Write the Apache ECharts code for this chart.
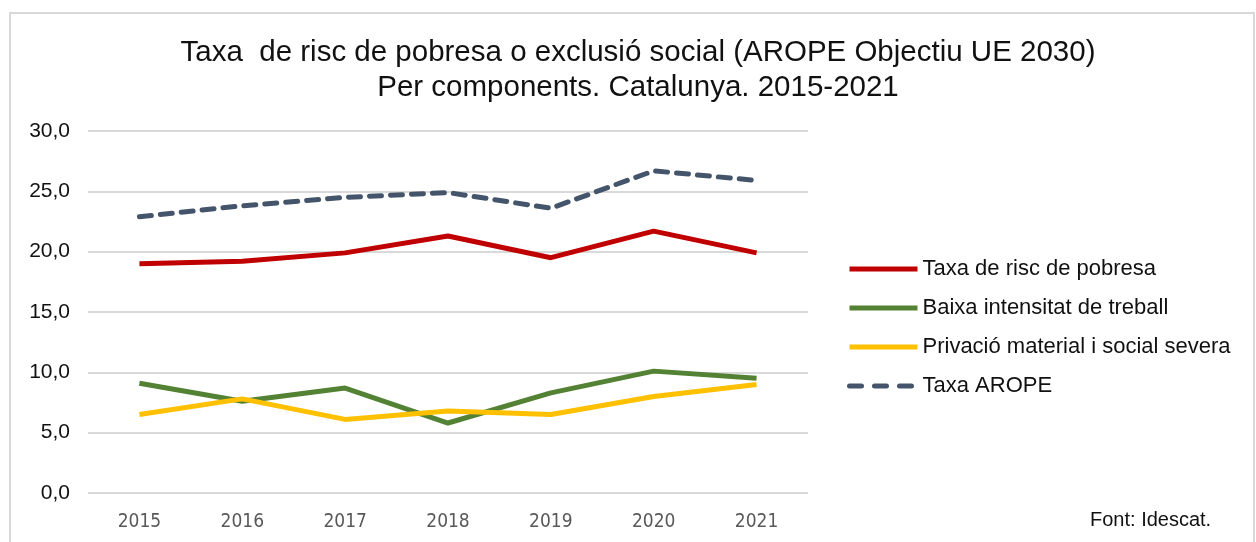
<!DOCTYPE html>
<html>
<head>
<meta charset="utf-8">
<script src="https://cdn.jsdelivr.net/npm/echarts@6/dist/echarts.min.js"></script>
<style>
html, body { margin: 0; padding: 0; background: #fff; }
#main { width: 1256px; height: 542px; }
</style>
</head>
<body>
<div id="main"></div>
<script>
// dades
var anys = ['2015', '2016', '2017', '2018', '2019', '2020', '2021'];
var taxaRisc = [19.0, 19.2, 19.9, 21.3, 19.5, 21.7, 19.9];
var baixaIntensitat = [9.1, 7.6, 8.7, 5.8, 8.3, 10.1, 9.5];
var privacio = [6.5, 7.8, 6.1, 6.8, 6.5, 8.0, 9.0];
var taxaArope = [22.9, 23.8, 24.5, 24.9, 23.6, 26.7, 25.9];

var myChart = echarts.init(document.getElementById('main'));

myChart.setOption({
    animation: false,
    backgroundColor: '#fff',
    title: {
        text: 'Taxa  de risc de pobresa o exclusió social (AROPE Objectiu UE 2030)\nPer components. Catalunya. 2015-2021',
        left: 633,
        top: 30,
        textAlign: 'center',
        textStyle: {
            fontFamily: 'Liberation Sans, Arial, sans-serif',
            fontSize: 29.5,
            fontWeight: 'normal',
            color: '#111',
            lineHeight: 35
        }
    },
    graphic: [{
        // marc del gràfic
        type: 'rect',
        shape: { x: 10, y: 13, width: 1244, height: 560 },
        style: { fill: 'none', stroke: '#d9d9d9', lineWidth: 2 },
        silent: true
    }, {
        type: 'text',
        left: 1090,
        top: 510,
        style: {
            text: 'Font: Idescat.',
            fontFamily: 'Liberation Sans, Arial, sans-serif',
            fontSize: 20,
            fill: '#111'
        }
    }],
    legend: {
        orient: 'vertical',
        left: 847,
        top: 258,
        padding: 0,
        itemWidth: 68,
        itemHeight: 5,
        itemGap: 17,
        textStyle: {
            fontFamily: 'Liberation Sans, Arial, sans-serif',
            fontSize: 22,
            color: '#111'
        },
        data: [
            { name: 'Taxa de risc de pobresa', icon: 'rect' },
            { name: 'Baixa intensitat de treball', icon: 'rect' },
            { name: 'Privació material i social severa', icon: 'rect' },
            { name: 'Taxa AROPE', lineStyle: { width: 5, type: [12, 13], cap: 'round' } }
        ]
    },
    grid: {
        left: 88,
        right: 448,
        top: 131,
        bottom: 49,
        containLabel: false
    },
    xAxis: {
        type: 'category',
        data: anys,
        boundaryGap: true,
        axisLine: { show: false },
        axisTick: { show: false },
        axisLabel: {
            margin: 20,
            fontFamily: 'Liberation Sans Narrow, DejaVu Sans Condensed, sans-serif',
            fontSize: 19,
            color: '#595959'
        }
    },
    yAxis: {
        type: 'value',
        min: 0,
        max: 30,
        interval: 5,
        axisLine: { show: false },
        axisTick: { show: false },
        splitLine: { lineStyle: { color: '#d9d9d9', width: 2 } },
        axisLabel: {
            margin: 18,
            fontFamily: 'Liberation Sans, Arial, sans-serif',
            fontSize: 21,
            color: '#111',
            formatter: function (v) { return v.toFixed(1).replace('.', ','); }
        }
    },
    series: [{
        name: 'Taxa de risc de pobresa',
        type: 'line',
        data: taxaRisc,
        symbol: 'none',
        color: '#c00000',
        lineStyle: { width: 5, color: '#c00000' }
    }, {
        name: 'Baixa intensitat de treball',
        type: 'line',
        data: baixaIntensitat,
        symbol: 'none',
        color: '#548235',
        lineStyle: { width: 5, color: '#548235' }
    }, {
        name: 'Privació material i social severa',
        type: 'line',
        data: privacio,
        symbol: 'none',
        color: '#ffc000',
        lineStyle: { width: 5, color: '#ffc000' }
    }, {
        name: 'Taxa AROPE',
        type: 'line',
        data: taxaArope,
        symbol: 'none',
        color: '#44546a',
        lineStyle: { width: 5, color: '#44546a', type: [12, 9], cap: 'round' }
    }]
});
</script>
</body>
</html>
